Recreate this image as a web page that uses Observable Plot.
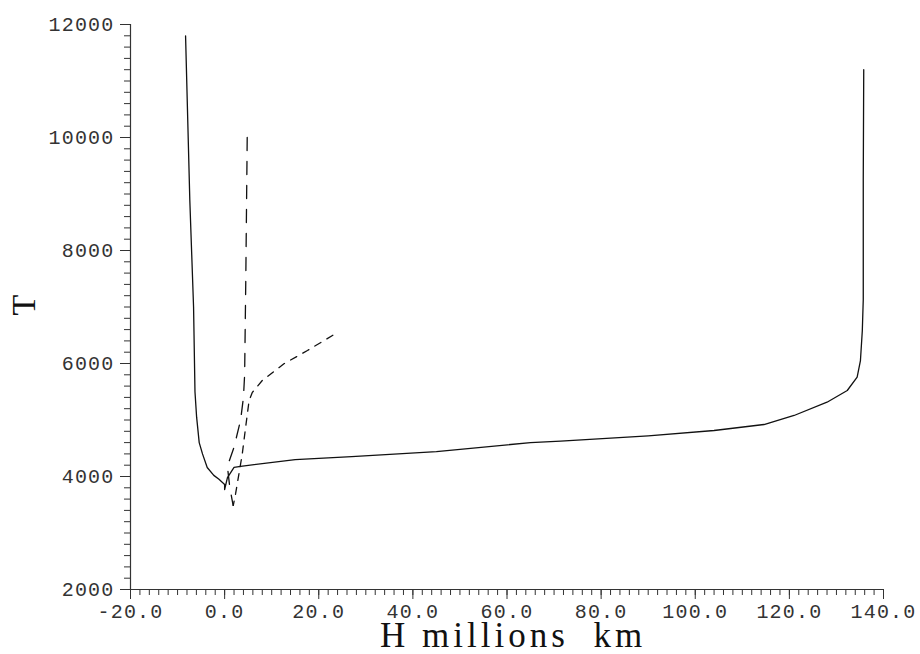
<!DOCTYPE html>
<html>
<head>
<meta charset="utf-8">
<script src="https://cdn.jsdelivr.net/npm/d3@7"></script>
<script src="https://cdn.jsdelivr.net/npm/@observablehq/plot@0.6"></script>
<style>
  html, body { margin: 0; padding: 0; background: #fff; }
  #chart { width: 920px; height: 654px; }
</style>
</head>
<body>
<div id="chart"></div>
<script>
// Solid curve
const solidH = [-8.3, -7.4, -6.6, -6.4, -6.3, -5.95, -5.4, -4.7, -3.7, -2.3, -1.2, 0, 0, 0.6, 2.0, 3.4, 15, 27, 45, 65, 71.4, 90, 104, 114.6, 121, 128, 132.3, 134.4, 135.1, 135.5, 135.7, 135.7, 135.8];
const solidT = [11800, 8900, 7000, 6000, 5500, 5050, 4600, 4400, 4160, 4020, 3950, 3860, 3770, 3980, 4160, 4180, 4300, 4350, 4440, 4600, 4625, 4720, 4814, 4920, 5080, 5315, 5522, 5758, 6053, 6584, 7134, 9240, 11200];
// Long-dashed curve
const longH = [4.8, 4.5, 4.25, 4.0, 3.4, 2.0, 1.0, 0.6, 1.1, 1.6, 1.8];
const longT = [10000, 7500, 5800, 5400, 5000, 4520, 4280, 4170, 3810, 3580, 3490];
// Short-dashed curve
const shortH = [23.0, 17.6, 12.6, 8.0, 5.9, 5.2, 4.46, 3.75, 3.05, 2.34, 1.84];
const shortT = [6500, 6230, 5995, 5700, 5490, 5345, 4870, 4400, 4050, 3700, 3490];

const xMajor = [-20, 0, 20, 40, 60, 80, 100, 120, 140];
const yMajor = [2000, 4000, 6000, 8000, 10000, 12000];
const xLabelWords = ["H millions ", "km"];
const yLabel = "T";

const toRows = (H, T) => H.map((h, i) => ({h, t: T[i]}));
const solid = toRows(solidH, solidT);
const longD = toRows(longH, longT);
const shortD = toRows(shortH, shortT);

const xMinor = d3.range(-20, 140.001, 2);
const yMinor = d3.range(2000, 12000.001, 200);
const axisColor = "#333";

const plot = Plot.plot({
  width: 920,
  height: 654,
  marginLeft: 130,
  marginRight: 37,
  marginTop: 24,
  marginBottom: 65,
  style: {
    fontFamily: "'Liberation Mono', 'DejaVu Sans Mono', monospace",
    fontSize: "20px",
    color: axisColor,
    background: "#fff",
    overflow: "visible"
  },
  x: {domain: [-20, 140]},
  y: {domain: [2000, 12000]},
  marks: [
    Plot.axisX(xMinor, {tickSize: 6, tickFormat: () => "", label: null, stroke: axisColor}),
    Plot.axisX(xMajor, {tickSize: 10, tickPadding: 4, tickFormat: d => d.toFixed(1), label: null, stroke: axisColor}),
    Plot.axisY(yMinor, {tickSize: 6, tickFormat: () => "", label: null, stroke: axisColor}),
    Plot.axisY(yMajor, {tickSize: 10, tickPadding: 6, tickFormat: d => String(d), label: null, stroke: axisColor}),
    Plot.ruleY([2000], {stroke: axisColor, strokeWidth: 1.2}),
    Plot.ruleX([-20], {stroke: axisColor, strokeWidth: 1.2}),
    Plot.line(solid, {x: "h", y: "t", stroke: "#111", strokeWidth: 1.3}),
    Plot.line(longD, {x: "h", y: "t", stroke: "#111", strokeWidth: 1.3, strokeDasharray: "13,11"}),
    Plot.line(shortD, {x: "h", y: "t", stroke: "#111", strokeWidth: 1.3, strokeDasharray: "7,7"})
  ]
});

const svg = d3.select(plot);
svg.selectAll("[aria-label='x-axis tick label'] text, [aria-label='y-axis tick label'] text")
  .style("letter-spacing", "1.2px");

const xl = svg.append("text")
  .attr("x", 380)
  .attr("y", 647)
  .attr("text-anchor", "start")
  .style("font-family", "'Liberation Serif', 'Times New Roman', serif")
  .style("font-size", "35px")
  .style("letter-spacing", "4px")
  .attr("fill", "#111");
xl.append("tspan").text(xLabelWords[0]);
xl.append("tspan").attr("dx", 12).text(xLabelWords[1]);

svg.append("text")
  .attr("transform", "translate(35,305) rotate(-90)")
  .attr("text-anchor", "middle")
  .style("font-family", "'Liberation Serif', 'Times New Roman', serif")
  .style("font-size", "34px")
  .attr("fill", "#111")
  .text(yLabel);

document.getElementById("chart").appendChild(plot);
</script>
</body>
</html>
